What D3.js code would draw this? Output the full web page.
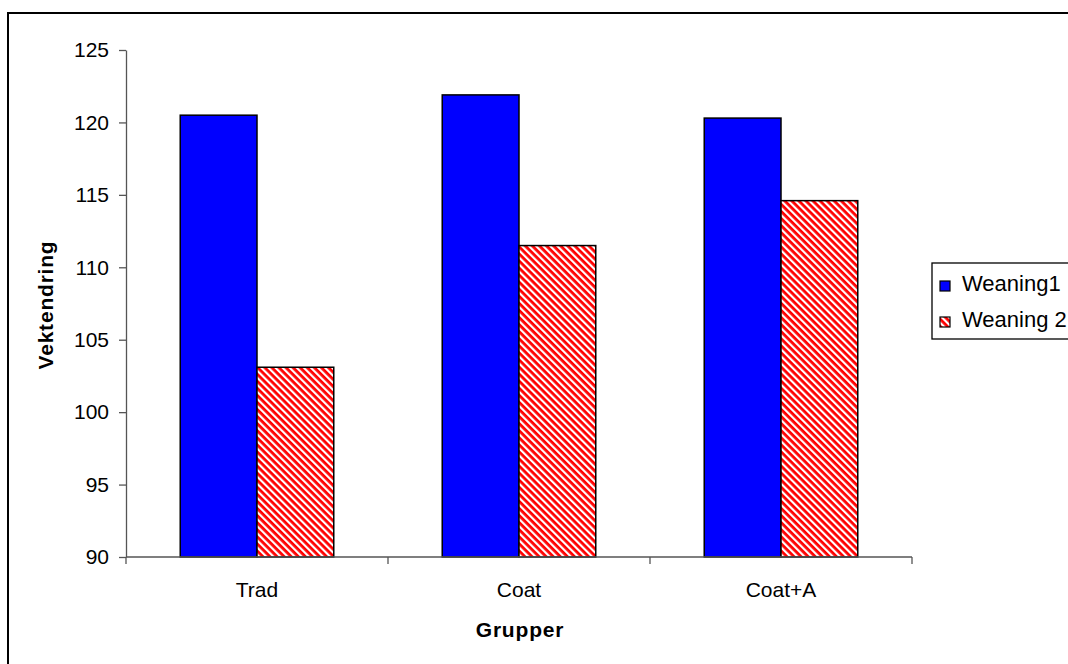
<!DOCTYPE html>
<meta charset="utf-8">
<script src="https://cdn.jsdelivr.net/npm/d3@7"></script>
<html>
<head>
<style>
body { margin: 0; background: #fff; }
svg { display: block; font-family: "Liberation Sans", Arial, sans-serif; }
</style>
</head>
<body>
<div id="chart"></div>
<script>
// data
var groups = ["Trad", "Coat", "Coat+A"];
var seriesNames = ["Weaning1", "Weaning 2"];
var weaning1 = [120.5, 121.9, 120.3];
var weaning2 = [103.1, 111.5, 114.6];
var yTicks = [90, 95, 100, 105, 110, 115, 120, 125];

var W = 1068, H = 664;
var margin = {top: 50, left: 126, right: 156, bottom: 107};
var width = W - margin.left - margin.right,
    height = H - margin.top - margin.bottom;

var svg = d3.select("#chart").append("svg")
    .attr("width", W).attr("height", H);

// stripe pattern for second series
var defs = svg.append("defs");
var pat = defs.append("pattern")
    .attr("id", "stripes")
    .attr("patternUnits", "userSpaceOnUse")
    .attr("width", 5).attr("height", 5)
    .attr("patternTransform", "rotate(45)");
pat.append("rect").attr("width", 5).attr("height", 5).attr("fill", "#fff");
pat.append("rect").attr("width", 5).attr("height", 2.8).attr("fill", "#ff0000");

// outer frame (runs off right/bottom like the original)
svg.append("rect")
    .attr("x", 8).attr("y", 13)
    .attr("width", W + 10).attr("height", H + 10)
    .attr("fill", "none").attr("stroke", "#000").attr("stroke-width", 2);

var g = svg.append("g")
    .attr("transform", "translate(" + margin.left + "," + margin.top + ")");

var x0 = d3.scaleBand().domain(groups).range([0, width]).paddingInner(0).paddingOuter(0);
var x1 = d3.scaleBand().domain(seriesNames).range([x0.bandwidth() * 0.207, x0.bandwidth() * 0.793]);
var y = d3.scaleLinear().domain([90, 125]).range([height, 0]);

var data = groups.map(function(gname, i) {
  return {group: gname, values: [
    {name: seriesNames[0], v: weaning1[i]},
    {name: seriesNames[1], v: weaning2[i]}
  ]};
});
var fills = {"Weaning1": "#0000ff", "Weaning 2": "url(#stripes)"};

var grp = g.selectAll(".grp").data(data).enter().append("g")
    .attr("transform", function(d) { return "translate(" + x0(d.group) + ",0)"; });
grp.selectAll("rect").data(function(d) { return d.values; }).enter().append("rect")
    .attr("x", function(d) { return x1(d.name); })
    .attr("width", x1.bandwidth())
    .attr("y", function(d) { return y(d.v); })
    .attr("height", function(d) { return height - y(d.v); })
    .attr("fill", function(d) { return fills[d.name]; })
    .attr("stroke", "#000").attr("stroke-width", 1.5);

// y axis
var yAxis = g.append("g")
    .call(d3.axisLeft(y).tickValues(yTicks).tickSize(7).tickPadding(10).tickSizeOuter(0));
yAxis.select(".domain").attr("stroke", "#555").attr("stroke-width", 1.3);
yAxis.selectAll(".tick line").attr("stroke", "#555").attr("stroke-width", 1.3);
yAxis.selectAll("text").style("font-size", "21px").style("font-family", "Liberation Sans, Arial, sans-serif").attr("fill", "#000");

// x axis with ticks between categories
var xAxis = g.append("g").attr("transform", "translate(0," + height + ")");
xAxis.append("line").attr("x1", 0).attr("x2", width).attr("stroke", "#555").attr("stroke-width", 1.3);
var bounds = [0].concat(groups.map(function(d) { return x0(d) + x0.bandwidth(); }));
xAxis.selectAll(".xt").data(bounds).enter().append("line")
    .attr("x1", function(d) { return d; }).attr("x2", function(d) { return d; })
    .attr("y1", 0).attr("y2", 7)
    .attr("stroke", "#555").attr("stroke-width", 1.3);
xAxis.selectAll(".xl").data(groups).enter().append("text")
    .attr("x", function(d) { return x0(d) + x0.bandwidth() / 2; })
    .attr("y", 40)
    .attr("text-anchor", "middle")
    .style("font-size", "21px")
    .text(function(d) { return d; });

// axis titles
svg.append("text")
    .attr("transform", "translate(53,305) rotate(-90)")
    .attr("text-anchor", "middle")
    .style("font-size", "21px").style("font-weight", "bold")
    .style("letter-spacing", "0.8px")
    .text("Vektendring");
svg.append("text")
    .attr("x", 520).attr("y", 637)
    .attr("text-anchor", "middle")
    .style("font-size", "21px").style("font-weight", "bold")
    .style("letter-spacing", "0.8px")
    .text("Grupper");

// legend
var leg = svg.append("g").attr("transform", "translate(932,263)");
leg.append("rect").attr("width", 150).attr("height", 76)
    .attr("fill", "#fff").attr("stroke", "#000").attr("stroke-width", 1.3);
seriesNames.forEach(function(s, i) {
  var row = leg.append("g").attr("transform", "translate(8," + (18 + i * 36) + ")");
  row.append("rect").attr("width", 10).attr("height", 10)
      .attr("fill", fills[s]).attr("stroke", "#000").attr("stroke-width", 1.2);
  row.append("text").attr("x", 22).attr("y", 10)
      .style("font-size", "22px").text(s);
});
</script>
</body>
</html>
